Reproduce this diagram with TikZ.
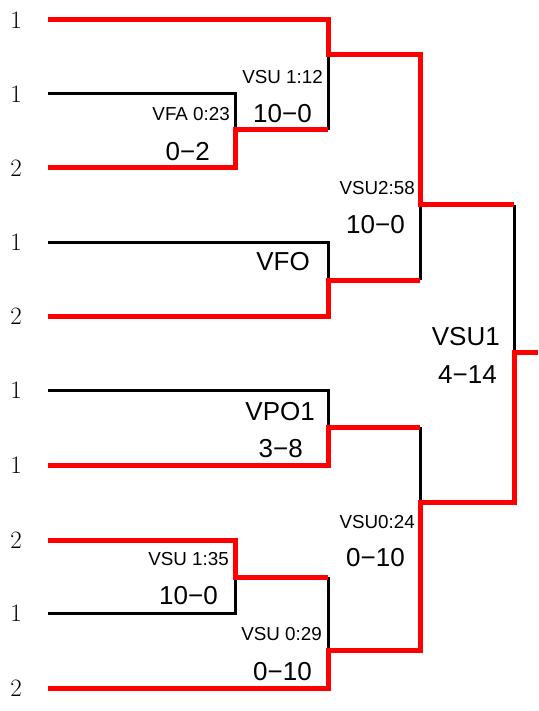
\documentclass[tikz,border=0pt]{standalone}
\usepackage{fontspec}
\newfontfamily\labfont{Liberation Sans}
\begin{document}
\begin{tikzpicture}[x=1pt,y=-1pt,
  redline/.style={draw=red,line width=5pt,line join=miter},
  blackline/.style={draw=black,line width=3pt,line join=miter},
  seed/.style={font=\fontsize{25}{25}\selectfont,inner sep=0pt},
  small/.style={font=\labfont\fontsize{18.8}{18.8}\selectfont,inner sep=0pt,anchor=east},
  big/.style={font=\labfont\fontsize{26}{26}\selectfont,inner sep=0pt,anchor=east}]
\useasboundingbox (0,0) rectangle (538,711);
% row starts
\foreach \n/\y in {1/20,2/94,3/168,4/242,5/316,6/390,7/465,8/540,9/613,10/688}
  \coordinate (s\n) at (48,\y);
% seed labels
\foreach \n/\y/\t in {1/20/1,2/94/1,3/168/2,4/242/1,5/316/2,6/390/1,7/465/1,8/540/2,9/613/1,10/688/2}
  \node[seed] (l\n) at (16,\y) {\t};
% junctions
\coordinate (a1) at (328,20);  \coordinate (a2) at (328,55);  \coordinate (a3) at (420,55);
\coordinate (b1) at (235,94);  \coordinate (b2) at (235,130); \coordinate (b3) at (328,130);
\coordinate (c1) at (235,168);
\coordinate (d1) at (328,242); \coordinate (d2) at (328,280); \coordinate (d3) at (420,280);
\coordinate (e1) at (328,316);
\coordinate (f0) at (420,205); \coordinate (f1) at (514,205); \coordinate (f2) at (514,352);
\coordinate (fe) at (538,352);
\coordinate (g1) at (328,390); \coordinate (g2) at (328,427); \coordinate (g3) at (420,427);
\coordinate (h1) at (328,465);
\coordinate (i1) at (420,502); \coordinate (i2) at (514,502);
\coordinate (j1) at (235,540); \coordinate (j2) at (235,577); \coordinate (j3) at (328,577);
\coordinate (k1) at (235,613);
\coordinate (m1) at (328,688); \coordinate (m2) at (328,650); \coordinate (m3) at (420,650);
% black lines
\draw[blackline] (s2) -- (b1) -- (b2);
\draw[blackline] (a2) -- (b3);
\draw[blackline] (s4) -- (d1) -- (d2);
\draw[blackline] (f0) -- (d3);
\draw[blackline] (f1) -- (f2);
\draw[blackline] (s6) -- (g1) -- (g2);
\draw[blackline] (g3) -- (i1);
\draw[blackline] (s9) -- (k1) -- (j2);
\draw[blackline] (j3) -- (m2);
% red lines
\draw[redline] (s1) -- (a1) -- (a2) -- (a3) -- (f0) -- (f1);
\draw[redline] (s3) -- (c1) -- (b2) -- (b3);
\draw[redline] (s5) -- (e1) -- (d2) -- (d3);
\draw[redline] (s7) -- (h1) -- (g2) -- (g3);
\draw[redline] (s8) -- (j1) -- (j2) -- (j3);
\draw[redline] (s10) -- (m1) -- (m2) -- (m3) -- (i1) -- (i2) -- (f2) -- (fe);
% labels
\node[small] (t1) at (323,77) {VSU 1:12};
\node[big]   (t2) at (312,114) {10−0};
\node[small] (t3) at (230,114) {VFA 0:23};
\node[big]   (t4) at (210,152) {0−2};
\node[small] (t5) at (415,188) {VSU2:58};
\node[big]   (t6) at (405,225) {10−0};
\node[big]   (t7) at (310,262) {VFO};
\node[big]   (t8) at (500,337) {VSU1};
\node[big]   (t9) at (497,375) {4−14};
\node[big]   (t10) at (315,412) {VPO1};
\node[big]   (t11) at (303,449) {3−8};
\node[small] (t12) at (415,522) {VSU0:24};
\node[big]   (t13) at (405,558) {0−10};
\node[small] (t14) at (229,559) {VSU 1:35};
\node[big]   (t15) at (218,596) {10−0};
\node[small] (t16) at (322,634) {VSU 0:29};
\node[big]   (t17) at (312,672) {0−10};
\end{tikzpicture}
\end{document}
